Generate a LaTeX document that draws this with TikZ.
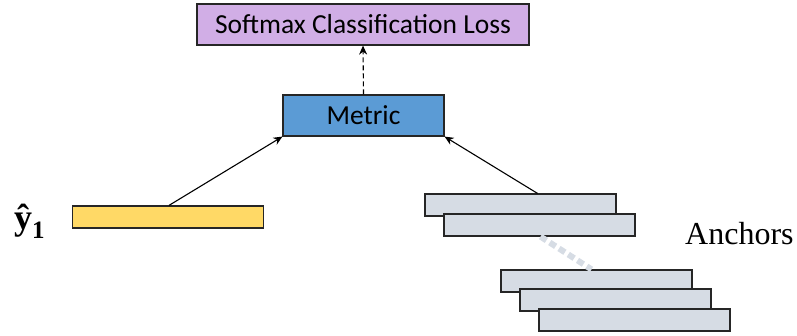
\documentclass[tikz,border=0pt]{standalone}
\usepackage{fontspec}
\setmainfont{Carlito}
\newfontfamily\serifa{Liberation Serif}
\usetikzlibrary{arrows.meta}
\definecolor{purp}{HTML}{D1AEE6}
\definecolor{blu}{HTML}{5B9BD5}
\definecolor{yel}{HTML}{FFD966}
\definecolor{gry}{HTML}{D6DCE4}
\tikzset{
  box/.style={draw=black!85, line width=1.2pt, inner sep=0pt, font=\fontsize{27.5}{32}\selectfont},
  bar/.style={draw=black!85, line width=1.2pt, inner sep=0pt, minimum width=191pt, minimum height=22pt},
  arr/.style={-{Stealth[length=9pt,width=8pt]}, line width=1.1pt}
}
\begin{document}
\begin{tikzpicture}[x=1pt,y=-1pt]
\useasboundingbox (0,0) rectangle (797,336);
\node[box, fill=purp, minimum width=332pt, minimum height=41pt] (loss) at (363,24.5) {Softmax Classification Loss};
\node[box, fill=blu, minimum width=161pt, minimum height=41pt] (metric) at (363.5,115.5) {Metric};
\node[bar, fill=yel] (yhat) at (168,217) {};
\node[bar, fill=gry] (a1) at (520.5,205) {};
\node[bar, fill=gry] (a2) at (539.5,225) {};
\node[bar, fill=gry] (a3) at (596.5,281) {};
\node[bar, fill=gry] (a4) at (615.5,300) {};
\node[bar, fill=gry] (a5) at (634.5,320) {};
\node[anchor=base west, inner sep=0pt, font=\serifa\bfseries\fontsize{36}{38}\selectfont] (ylab) at (14,230) {\^{y}\raisebox{-9pt}{\fontsize{25}{26}\selectfont 1}};
\node[anchor=west, inner sep=0pt, font=\serifa\fontsize{32}{36}\selectfont] (anch) at (685,234) {Anchors};
\draw[arr, dashed, dash pattern=on 5pt off 3pt] (metric.north) -- (loss.south);
\draw[arr] (yhat.north) ++(1,0) coordinate (ys) -- (metric.south west);
\draw[arr] (a1.north) ++(17,0) coordinate (as) -- (metric.south east);
\draw[gry, line width=6pt, dash pattern=on 7pt off 4pt] ([xshift=1pt]a2.south) -- ([xshift=-5pt]a3.north);
\end{tikzpicture}
\end{document}
